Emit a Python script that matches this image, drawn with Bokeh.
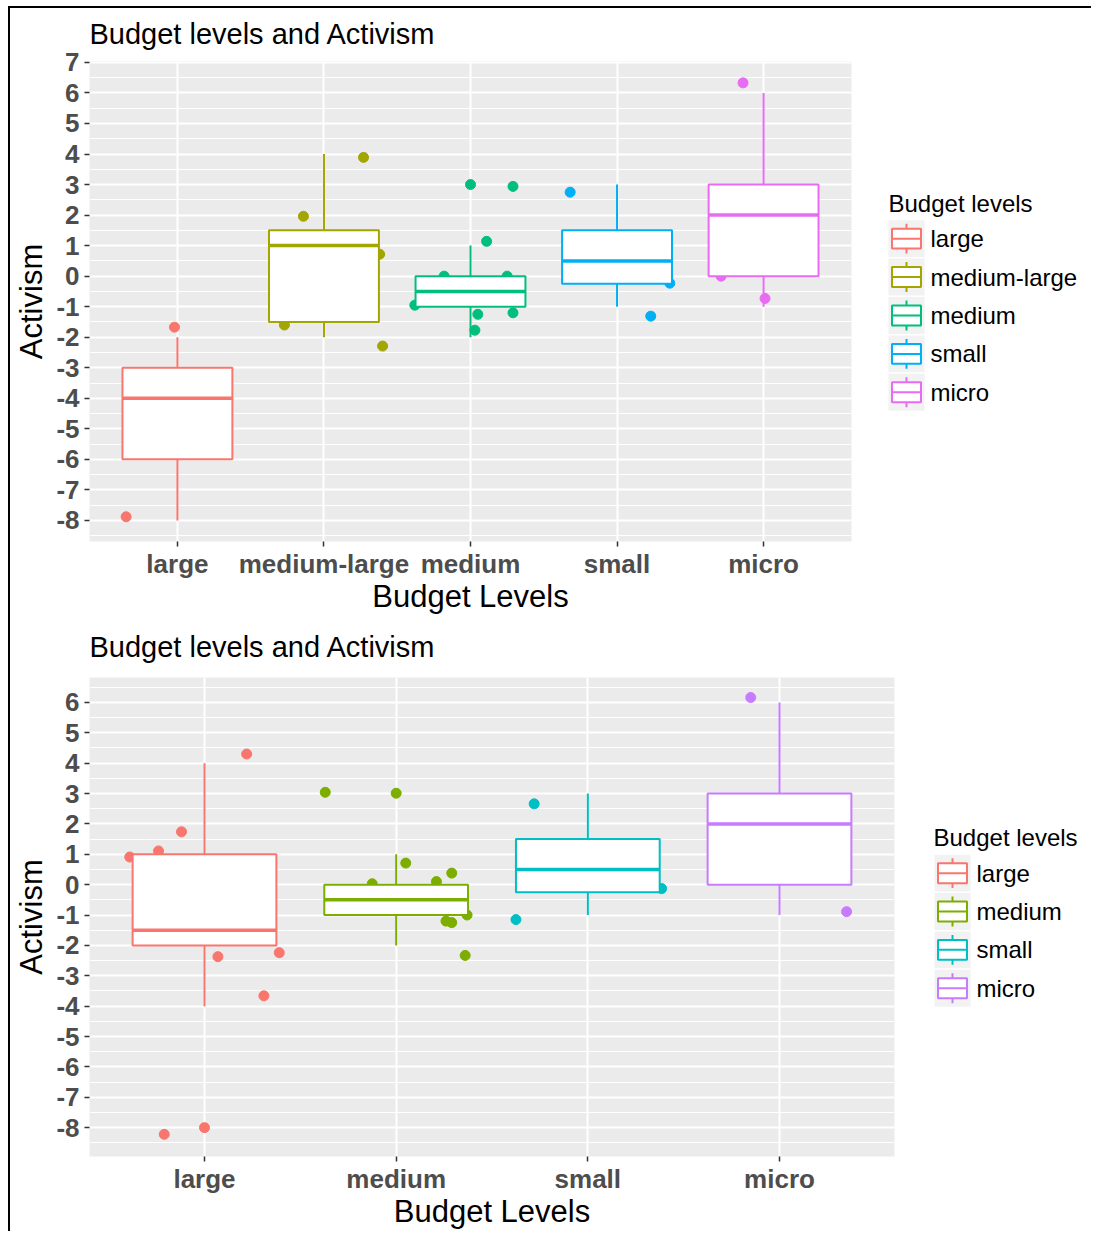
from bokeh.plotting import figure
from bokeh.layouts import column, row
from bokeh.models import Range1d, FixedTicker, ColumnDataSource
from bokeh.core.properties import value
from bokeh.embed import file_html
from bokeh.resources import INLINE

FONT = "Liberation Sans"

# ---------------- Top chart data ----------------
TOP_TITLE = "Budget levels and Activism"
TOP_CATS = ["large", "medium-large", "medium", "small", "micro"]
TOP_COLORS = ["#F8766D", "#A3A500", "#00BF7D", "#00B0F6", "#E76BF3"]
TOP_LOWER = [-8, -2, -2, -1, -1]
TOP_Q1 = [-6, -1.5, -1, -0.25, 0]
TOP_MEDIAN = [-4, 1, -0.5, 0.5, 2]
TOP_Q3 = [-3, 1.5, 0, 1.5, 3]
TOP_UPPER = [-2, 4, 1, 3, 6]
TOP_PT_CAT = [0, 0,
              1, 1, 1, 1, 1,
              2, 2, 2, 2, 2, 2, 2, 2, 2,
              3, 3, 3,
              4, 4, 4]
TOP_PT_JIT = [-0.02, -0.35,
              -0.14, 0.27, 0.38, -0.27, 0.40,
              -0.18, -0.38, 0.0, 0.29, 0.11, 0.05, 0.03, 0.29, 0.25,
              -0.32, 0.36, 0.23,
              -0.14, -0.29, 0.01]
TOP_PT_VAL = [-1.67, -7.88,
              1.96, 3.89, 0.72, -1.6, -2.29,
              0.0, -0.95, 3.0, 2.94, 1.14, -1.25, -1.77, -1.2, 0.0,
              2.75, -0.23, -1.31,
              6.33, 0.0, -0.73]
TOP_YTICKS = list(range(-8, 8))
TOP_YRANGE = (-8.69, 7.03)

# ---------------- Bottom chart data ----------------
BOT_TITLE = "Budget levels and Activism"
BOT_CATS = ["large", "medium", "small", "micro"]
BOT_COLORS = ["#F8766D", "#7CAE00", "#00BFC4", "#C77CFF"]
BOT_LOWER = [-4, -2, -1, -1]
BOT_Q1 = [-2, -1, -0.25, 0]
BOT_MEDIAN = [-1.5, -0.5, 0.5, 2]
BOT_Q3 = [1, 0, 1.5, 3]
BOT_UPPER = [4, 1, 3, 6]
BOT_PT_CAT = [0, 0, 0, 0, 0, 0, 0, 0, 0,
              1, 1, 1, 1, 1, 1, 1, 1, 1, 1,
              2, 2, 2,
              3, 3]
BOT_PT_JIT = [0.22, -0.12, -0.24, -0.39, 0.07, 0.39, 0.31, 0.0, -0.21,
              -0.37, 0.0, 0.05, 0.29, 0.21, -0.125, 0.37, 0.26, 0.29, 0.36,
              -0.28, 0.385, -0.375,
              -0.15, 0.35]
BOT_PT_VAL = [4.3, 1.74, 1.11, 0.91, -2.37, -2.24, -3.66, -8.0, -8.22,
              3.04, 3.01, 0.71, 0.38, 0.1, 0.03, -1.0, -1.2, -1.25, -2.33,
              2.66, -0.13, -1.15,
              6.16, -0.89]
BOT_YTICKS = list(range(-8, 7))
BOT_YRANGE = (-8.95, 6.82)

X_LABEL = "Budget Levels"
Y_LABEL = "Activism"
LEGEND_TITLE = "Budget levels"
BOX_W = 0.75


def make_panel(title, cats, colors, lower, q1, med, q3, upper,
               pcat, pjit, pval, yticks, yrange, width, height,
               b_left, b_right, b_top, b_bottom, t_standoff):
    n = len(cats)
    p = figure(width=width, height=height,
               x_range=Range1d(0.4, n + 0.6), y_range=Range1d(*yrange),
               output_backend="svg", toolbar_location=None,
               min_border_left=b_left, min_border_right=b_right,
               min_border_top=b_top, min_border_bottom=b_bottom,
               title=title)
    p.background_fill_color = "#EBEBEB"
    p.border_fill_color = "white"
    p.outline_line_color = None

    p.title.align = "left"
    p.title.vertical_align = "top"
    p.title.text_font = FONT
    p.title.text_font_size = "29px"
    p.title.text_font_style = "normal"
    p.title.text_color = "black"
    p.title.standoff = t_standoff

    xs = [i + 1 for i in range(n)]
    p.xaxis.ticker = FixedTicker(ticks=xs)
    p.xaxis.major_label_overrides = {x: c for x, c in zip(xs, cats)}
    p.yaxis.ticker = FixedTicker(ticks=yticks,
                                 minor_ticks=[t + 0.5 for t in [yticks[0] - 1] + yticks])
    p.yaxis.major_label_overrides = {t: str(t) for t in yticks}

    for ax in (p.xaxis[0], p.yaxis[0]):
        ax.axis_line_color = None
        ax.major_tick_line_color = "#333333"
        ax.major_tick_line_width = 1.5
        ax.major_tick_in = 0
        ax.major_tick_out = 5
        ax.minor_tick_line_color = None
        ax.major_label_text_font = FONT
        ax.major_label_text_font_size = "26px"
        ax.major_label_text_font_style = "bold"
        ax.major_label_text_color = "#4D4D4D"
        ax.axis_label_text_font = FONT
        ax.axis_label_text_font_size = "31px"
        ax.axis_label_text_font_style = "normal"
        ax.axis_label_text_color = "black"
    p.xaxis.axis_label = X_LABEL
    p.yaxis.axis_label = Y_LABEL
    p.xaxis.major_label_standoff = 2
    p.xaxis.axis_label_standoff = -3
    p.yaxis.major_label_standoff = 5
    p.yaxis.axis_label_standoff = 4

    p.xgrid.grid_line_color = "white"
    p.xgrid.grid_line_width = 2
    p.ygrid.grid_line_color = "white"
    p.ygrid.grid_line_width = 2
    p.ygrid.minor_grid_line_color = "white"
    p.ygrid.minor_grid_line_width = 1

    # jittered points (drawn first, boxes go over them)
    pts = ColumnDataSource(dict(
        x=[pcat[k] + 1 + pjit[k] for k in range(len(pcat))],
        y=pval,
        c=[colors[k] for k in pcat]))
    p.scatter("x", "y", source=pts, size=10, fill_color="c", line_color="c")

    box = ColumnDataSource(dict(
        x=xs, lower=lower, q1=q1, med=med, q3=q3, upper=upper, c=colors,
        x0=[x - BOX_W / 2 for x in xs], x1=[x + BOX_W / 2 for x in xs]))
    p.segment(x0="x", y0="q3", x1="x", y1="upper", source=box, line_color="c", line_width=2)
    p.segment(x0="x", y0="lower", x1="x", y1="q1", source=box, line_color="c", line_width=2)
    p.vbar(x="x", width=BOX_W, bottom="q1", top="q3", source=box,
           fill_color="white", line_color="c", line_width=2)
    p.segment(x0="x0", y0="med", x1="x1", y1="med", source=box, line_color="c", line_width=3.5)
    return p


def make_legend(cats, colors, width, height, b_top, b_bottom,
                title_x, title_y, key_x, row0, step):
    lg = figure(width=width, height=height, x_range=Range1d(0, width),
                y_range=Range1d(height - b_bottom, b_top), output_backend="svg",
                toolbar_location=None, min_border_left=0, min_border_right=0,
                min_border_top=b_top, min_border_bottom=b_bottom)
    lg.axis.visible = False
    lg.grid.visible = False
    lg.outline_line_color = None
    lg.background_fill_color = "white"
    lg.border_fill_color = "white"
    n = len(cats)
    cy = [row0 + step * i for i in range(n)]
    kw, kh = 36, 37
    src = ColumnDataSource(dict(
        cx=[key_x + kw / 2] * n, cy=cy, c=colors, t=cats,
        top_s=[y - 15 for y in cy], top_e=[y - 10 for y in cy],
        bot_s=[y + 10 for y in cy], bot_e=[y + 15 for y in cy],
        bx0=[key_x + 3.5] * n, bx1=[key_x + kw - 3.5] * n,
        tx=[key_x + kw + 6] * n))
    lg.rect(x="cx", y="cy", width=kw, height=kh, source=src,
            fill_color="#F2F2F2", line_color=None)
    lg.segment(x0="cx", y0="top_s", x1="cx", y1="top_e", source=src, line_color="c", line_width=2)
    lg.segment(x0="cx", y0="bot_s", x1="cx", y1="bot_e", source=src, line_color="c", line_width=2)
    lg.quad(left="bx0", right="bx1", top="top_e", bottom="bot_s", source=src,
            fill_color="white", line_color="c", line_width=2)
    lg.segment(x0="bx0", y0="cy", x1="bx1", y1="cy", source=src, line_color="c", line_width=2)
    lg.text(x="tx", y="cy", text="t", source=src, text_baseline="middle",
            text_align="left", text_font=value(FONT), text_font_size="24px",
            text_color="black")
    lg.text(x=[title_x], y=[title_y], text=[LEGEND_TITLE], text_baseline="middle",
            text_align="left", text_font=value(FONT), text_font_size="24px",
            text_color="black")
    return lg


p1 = make_panel(TOP_TITLE, TOP_CATS, TOP_COLORS, TOP_LOWER, TOP_Q1, TOP_MEDIAN, TOP_Q3,
                TOP_UPPER, TOP_PT_CAT, TOP_PT_JIT, TOP_PT_VAL, TOP_YTICKS, TOP_YRANGE,
                860, 610, 79, 19, 52, 77, 19)
l1 = make_legend(TOP_CATS, TOP_COLORS, 221, 610, 52, 77, 18, 194, 18, 229.5, 38.5)

p2 = make_panel(BOT_TITLE, BOT_CATS, BOT_COLORS, BOT_LOWER, BOT_Q1, BOT_MEDIAN, BOT_Q3,
                BOT_UPPER, BOT_PT_CAT, BOT_PT_JIT, BOT_PT_VAL, BOT_YTICKS, BOT_YRANGE,
                900, 613, 79, 16, 59, 73, 25)
l2 = make_legend(BOT_CATS, BOT_COLORS, 181, 613, 59, 73, 23, 220, 24, 255.5, 38.5)

layout = column(row(p1, l1), row(p2, l2),
                styles={"border-left": "2px solid #000", "border-top": "2px solid #000",
                        "margin-left": "8px", "margin-top": "6px"})

open("out.html", "w").write(file_html(layout, INLINE))
